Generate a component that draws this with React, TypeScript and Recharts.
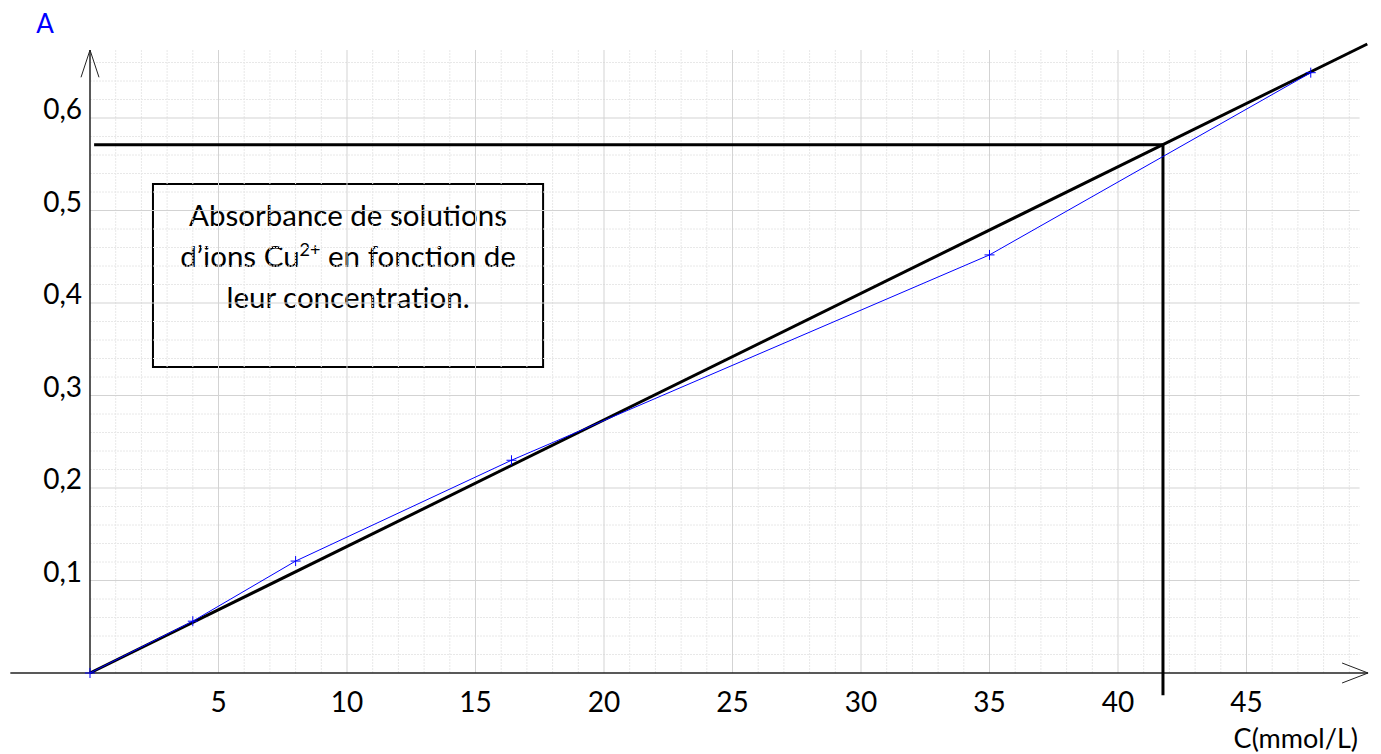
import {
  ComposedChart,
  Line,
  XAxis,
  YAxis,
  ReferenceLine,
  ReferenceArea,
} from "recharts";

// measured points (C in mmol/L, absorbance A)
const concentrations = [0, 4, 8, 16.4, 35, 47.5];
const absorbances = [0, 0.056, 0.121, 0.23, 0.452, 0.649];

// straight calibration line drawn through the origin
const trendC = [0, 49.7];
const trendA = [0, 0.68];

// read-out of the unknown solution
const readC = 41.75;
const readA = 0.571;

const xTicks = [5, 10, 15, 20, 25, 30, 35, 40, 45];
const yTicks = [0.1, 0.2, 0.3, 0.4, 0.5, 0.6];

const boxLines = ["Absorbance de solutions", "d’ions Cu", "2+", " en fonction de", "leur concentration."];

const FONT = "Lato, 'Open Sans', sans-serif";
const Y_TOP = 0.6735; // end of the y axis / grid
const X_RIGHT = 49.4; // end of horizontal grid lines

const measured = concentrations.map((c, i) => ({ c, a: absorbances[i] }));
const trend = trendC.map((c, i) => ({ c, a: trendA[i] }));

const minorX = Array.from({ length: 49 }, (_, i) => i + 1).filter((v) => v % 5 !== 0);
const minorY = Array.from({ length: 33 }, (_, i) => +((i + 1) * 0.02).toFixed(2)).filter(
  (v) => Math.round(v * 100) % 10 !== 0
);

function PlusDot(props: any) {
  const { cx, cy } = props;
  if (cx == null || cy == null) return null;
  return (
    <path
      d={`M${cx - 5},${cy}H${cx + 5}M${cx},${cy - 5}V${cy + 5}`}
      stroke="#0000ff"
      strokeWidth={1}
      fill="none"
    />
  );
}

function XTick({ x, y, payload }: any) {
  return (
    <text x={x} y={y} dy={39} textAnchor="middle" fontFamily={FONT} fontSize={28} fill="#000">
      {payload.value}
    </text>
  );
}

function YTick({ x, y, payload }: any) {
  return (
    <text x={x - 8} y={y} dy={1} textAnchor="end" fontFamily={FONT} fontSize={28} fill="#000">
      {payload.value.toFixed(1).replace(".", ",")}
    </text>
  );
}

function XTitle({ viewBox }: any) {
  return (
    <text
      x={viewBox.x + viewBox.width - 17}
      y={viewBox.y + 75}
      textAnchor="end"
      fontFamily={FONT}
      fontSize={27}
      fill="#000"
    >
      C(mmol/L)
    </text>
  );
}

function YTitle({ viewBox }: any) {
  return (
    <text x={viewBox.x + 45} y={viewBox.y - 11} textAnchor="middle" fontFamily={FONT} fontSize={26} fill="#0000ff">
      A
    </text>
  );
}

function BoxText({ viewBox }: any) {
  const { x, y, width } = viewBox;
  const cx = x + width / 2;
  return (
    <g fontFamily={FONT} fontSize={29.5} fill="#000">
      <text x={cx} y={y + 42} textAnchor="middle">
        {boxLines[0]}
      </text>
      <text x={cx} y={y + 83} textAnchor="middle">
        {boxLines[1]}
        <tspan fontSize={18} dy={-11}>
          {boxLines[2]}
        </tspan>
        <tspan dy={11}>{boxLines[3]}</tspan>
      </text>
      <text x={cx} y={y + 124} textAnchor="middle">
        {boxLines[4]}
      </text>
    </g>
  );
}

export default function App() {
  return (
    <div style={{ position: "absolute", left: 0, top: 0, background: "#fff" }}>
      <ComposedChart width={1381} height={754} margin={{ top: 44, right: 6, bottom: 0, left: 0 }}>
        <XAxis
          type="number"
          dataKey="c"
          domain={[0, 50]}
          ticks={xTicks}
          interval={0}
          axisLine={false}
          tickLine={false}
          tickSize={0}
          tickMargin={0}
          height={81}
          tick={<XTick />}
          label={XTitle}
        />
        <YAxis
          type="number"
          dataKey="a"
          domain={[0, 0.68]}
          ticks={yTicks}
          interval={0}
          axisLine={false}
          tickLine={false}
          tickSize={0}
          tickMargin={0}
          width={90}
          tick={<YTick />}
          label={YTitle}
        />

        {minorX.map((v) => (
          <ReferenceLine
            key={`mx${v}`}
            segment={[{ x: v, y: 0 }, { x: v, y: Y_TOP }]}
            stroke="#e8e8e8"
            strokeDasharray="2 1"
            ifOverflow="visible"
          />
        ))}
        {minorY.map((v) => (
          <ReferenceLine
            key={`my${v}`}
            segment={[{ x: 0, y: v }, { x: X_RIGHT, y: v }]}
            stroke="#e8e8e8"
            strokeDasharray="2 1"
            ifOverflow="visible"
          />
        ))}
        {xTicks.map((v) => (
          <ReferenceLine
            key={`Mx${v}`}
            segment={[{ x: v, y: 0 }, { x: v, y: Y_TOP }]}
            stroke="#d3d3d3"
            ifOverflow="visible"
          />
        ))}
        {yTicks.map((v) => (
          <ReferenceLine
            key={`My${v}`}
            segment={[{ x: 0, y: v }, { x: X_RIGHT, y: v }]}
            stroke="#d3d3d3"
            ifOverflow="visible"
          />
        ))}

        <ReferenceArea
          x1={2.45}
          x2={17.63}
          y1={0.3308}
          y2={0.5286}
          fill="#fff"
          fillOpacity={1}
          stroke="#000"
          strokeOpacity={1}
          strokeWidth={2}
          ifOverflow="visible"
          label={BoxText}
        />

        {/* axes with open arrow heads */}
        <ReferenceLine segment={[{ x: -3.1, y: 0 }, { x: 49.73, y: 0 }]} stroke="#222" strokeWidth={1.5} ifOverflow="visible" />
        <ReferenceLine segment={[{ x: 48.72, y: 0.0108 }, { x: 49.73, y: 0 }]} stroke="#222" strokeWidth={1} ifOverflow="visible" />
        <ReferenceLine segment={[{ x: 48.72, y: -0.0108 }, { x: 49.73, y: 0 }]} stroke="#222" strokeWidth={1} ifOverflow="visible" />
        <ReferenceLine segment={[{ x: 0, y: 0 }, { x: 0, y: Y_TOP }]} stroke="#222" strokeWidth={1.5} ifOverflow="visible" />
        <ReferenceLine segment={[{ x: -0.35, y: 0.644 }, { x: 0, y: Y_TOP }]} stroke="#222" strokeWidth={1} ifOverflow="visible" />
        <ReferenceLine segment={[{ x: 0.35, y: 0.644 }, { x: 0, y: Y_TOP }]} stroke="#222" strokeWidth={1} ifOverflow="visible" />

        {/* read-out lines */}
        <ReferenceLine segment={[{ x: 0.16, y: readA }, { x: readC, y: readA }]} stroke="#000" strokeWidth={3} ifOverflow="visible" />
        <ReferenceLine segment={[{ x: readC, y: readA }, { x: readC, y: -0.024 }]} stroke="#000" strokeWidth={3} ifOverflow="visible" />

        <Line
          data={trend}
          dataKey="a"
          stroke="#000"
          strokeWidth={3}
          dot={false}
          activeDot={false}
          isAnimationActive={false}
        />
        <Line
          data={measured}
          dataKey="a"
          type="linear"
          stroke="#0000ff"
          strokeWidth={1}
          dot={<PlusDot />}
          activeDot={false}
          isAnimationActive={false}
        />
      </ComposedChart>
    </div>
  );
}
